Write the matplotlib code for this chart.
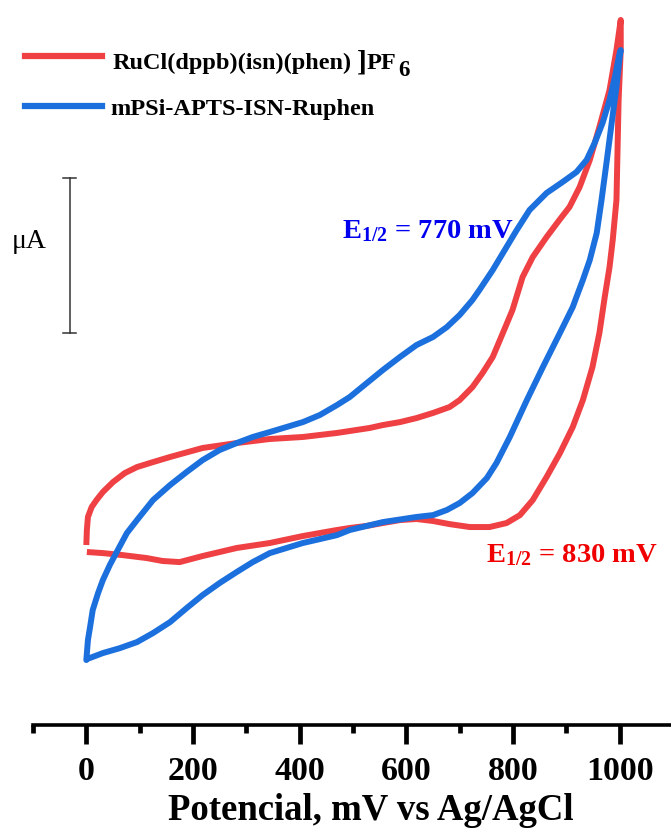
import matplotlib
matplotlib.use("Agg")
import matplotlib.pyplot as plt
from matplotlib.lines import Line2D

plt.rcParams["font.family"] = ["Liberation Serif", "DejaVu Serif"]
plt.rcParams["mathtext.fontset"] = "custom"
plt.rcParams["mathtext.rm"] = "Liberation Serif:bold"
plt.rcParams["mathtext.bf"] = "Liberation Serif:bold"
plt.rcParams["mathtext.it"] = "Liberation Serif:bold"

# Cyclic voltammograms: potential (mV vs Ag/AgCl) and current (uA)
ru_fwd_E = [0, 1, 3, 10, 19, 31, 50, 72, 95, 125, 157, 218, 282, 344, 406, 470,
            531, 556, 588, 619, 650, 681, 700, 724, 743, 762, 781, 799, 818, 837,
            863, 887, 906, 925, 944, 962, 981, 994, 1002]
ru_fwd_I = [0.742, 0.839, 0.923, 0.987, 1.032, 1.084, 1.148, 1.206, 1.245, 1.277,
            1.310, 1.368, 1.400, 1.426, 1.439, 1.465, 1.497, 1.516, 1.535, 1.561,
            1.594, 1.632, 1.677, 1.761, 1.852, 1.955, 2.110, 2.258, 2.471, 2.600,
            2.729, 2.839, 2.923, 3.052, 3.226, 3.439, 3.677, 3.935, 4.129]
ru_rev_E = [1002, 1002, 998, 996, 994, 987, 981, 972, 962, 949, 931, 912, 888,
            863, 837, 813, 788, 756, 719, 681, 650, 619, 588, 556, 525, 494, 470,
            406, 344, 282, 218, 175, 143, 113, 68, 31, 1]
ru_rev_I = [4.129, 3.935, 3.613, 3.290, 2.968, 2.710, 2.535, 2.342, 2.110, 1.890,
            1.677, 1.503, 1.335, 1.181, 1.032, 0.935, 0.884, 0.858, 0.858, 0.877,
            0.897, 0.910, 0.903, 0.884, 0.865, 0.852, 0.839, 0.800, 0.755, 0.723,
            0.671, 0.632, 0.639, 0.658, 0.677, 0.690, 0.697]

si_fwd_E = [0, 3, 7, 12, 22, 31, 44, 59, 76, 95, 125, 157, 188, 218, 250, 282,
            312, 344, 406, 438, 470, 494, 526, 556, 588, 619, 650, 676, 700, 724,
            737, 762, 788, 807, 831, 863, 893, 919, 938, 953, 968, 981, 991, 1000,
            1002]
si_fwd_I = [0.000, 0.129, 0.213, 0.323, 0.432, 0.516, 0.613, 0.710, 0.819, 0.903,
            1.032, 1.129, 1.213, 1.290, 1.355, 1.400, 1.439, 1.471, 1.535, 1.581,
            1.645, 1.697, 1.787, 1.871, 1.955, 2.032, 2.084, 2.148, 2.226, 2.323,
            2.387, 2.516, 2.665, 2.774, 2.903, 3.013, 3.084, 3.148, 3.226, 3.335,
            3.465, 3.613, 3.761, 3.916, 3.935]
si_rev_E = [1002, 1000, 994, 985, 976, 966, 957, 944, 931, 919, 912, 888, 856,
            826, 794, 769, 751, 724, 700, 676, 650, 619, 556, 494, 470, 406, 344,
            312, 282, 250, 218, 188, 157, 125, 95, 63, 31, 1]
si_rev_I = [3.935, 3.890, 3.697, 3.465, 3.226, 2.968, 2.755, 2.581, 2.452, 2.342,
            2.277, 2.110, 1.890, 1.677, 1.439, 1.271, 1.174, 1.077, 1.013, 0.968,
            0.935, 0.923, 0.890, 0.839, 0.806, 0.755, 0.690, 0.632, 0.568, 0.497,
            0.419, 0.335, 0.245, 0.174, 0.116, 0.077, 0.045, 0.006]

series_labels = ["RuCl(dppb)(isn)(phen)", "mPSi-APTS-ISN-Ruphen"]
e_half_labels = ["E$_{1/2}$ = 830 mV", "E$_{1/2}$ = 770 mV"]
x_ticks = [0, 200, 400, 600, 800, 1000]
x_minor = [-100, 100, 300, 500, 700, 900, 1100]
x_label = "Potencial, mV vs Ag/AgCl"
scale_bar = [2.11, 3.11]  # 1 uA

RED = "#EF4044"
BLUE = "#1C70DD"

W, H = 671, 831
fig = plt.figure(figsize=(W / 100, H / 100), dpi=100)
# axis from -100 mV (x=33 px) to 1100 mV (x=673 px); bottom spine at y=725 px
ax = fig.add_axes([33 / W, 1 - 725 / H, 640 / W, 725 / H])
ax.set_xlim(-100, 1100)
ax.set_ylim(-0.419, 4.258)

lw = 4.3
ax.plot(ru_fwd_E + ru_rev_E[1:], ru_fwd_I + ru_rev_I[1:], color=RED, lw=lw,
        solid_joinstyle="round", solid_capstyle="butt", zorder=3)
ax.plot(si_fwd_E + si_rev_E[1:], si_fwd_I + si_rev_I[1:], color=BLUE, lw=lw,
        solid_joinstyle="round", solid_capstyle="round", zorder=4)

for s in ["left", "right", "top"]:
    ax.spines[s].set_visible(False)
ax.spines["bottom"].set_linewidth(2.6)
ax.spines["bottom"].set_capstyle("projecting")
ax.set_yticks([])
ax.set_xticks(x_ticks)
ax.set_xticks(x_minor, minor=True)
ax.tick_params(axis="x", which="major", direction="out", length=13.5, width=3.4,
               pad=9, labelsize=24.5)
ax.tick_params(axis="x", which="minor", direction="out", length=6, width=3.4)
for t in ax.get_xticklabels():
    t.set_fontweight("bold")
ax.set_xlabel(x_label, fontsize=26.5, fontweight="bold", labelpad=4)
ax.xaxis.label.set_x((371 - 33) / 640)

# current scale bar
ax.plot([-31, -31], scale_bar, color="#333333", lw=1.1, clip_on=False)
for yb in scale_bar:
    ax.plot([-43, -19], [yb, yb], color="#333333", lw=1.1, clip_on=False)
ax.text(-108, 2.70, "\u03bcA", fontsize=20, ha="center", va="center",
        family=["Liberation Serif", "DejaVu Serif"], clip_on=False)

# half-wave potential labels
ax.text(750, 0.632, e_half_labels[0], color="#F00000", fontsize=20.5,
        fontweight="bold", ha="left", va="baseline")
ax.text(480, 2.723, e_half_labels[1], color="#0000EE", fontsize=20.5,
        fontweight="bold", ha="left", va="baseline")

# legend
for yl, col in [(56, RED), (106, BLUE)]:
    fig.add_artist(Line2D([25 / W, 102 / W], [1 - yl / H, 1 - yl / H],
                          color=col, lw=4.5, transform=fig.transFigure))
fig.text(113 / W, 1 - 69 / H, series_labels[0], fontsize=17.5,
         fontweight="bold", ha="left", va="baseline")
fig.text(357 / W, 1 - 71 / H, "]", fontsize=21, fontweight="bold",
         ha="left", va="baseline")
fig.text(367 / W, 1 - 69 / H, "PF", fontsize=17.5, fontweight="bold",
         ha="left", va="baseline")
fig.text(398 / W, 1 - 76 / H, "6", fontsize=16.5, fontweight="bold",
         ha="left", va="baseline")
fig.text(110 / W, 1 - 115 / H, series_labels[1], fontsize=17.5,
         fontweight="bold", ha="left", va="baseline")

fig.savefig("out.png", dpi=100)
